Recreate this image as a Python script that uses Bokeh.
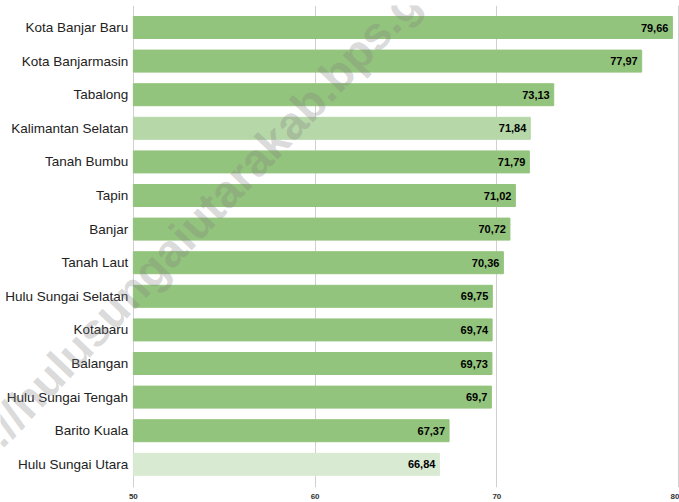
import math
from bokeh.plotting import figure
from bokeh.models import ColumnDataSource, Range1d, FixedTicker, Label
from bokeh.core.properties import value
from bokeh.embed import file_html
from bokeh.resources import INLINE

regions = ["Kota Banjar Baru", "Kota Banjarmasin", "Tabalong", "Kalimantan Selatan",
           "Tanah Bumbu", "Tapin", "Banjar", "Tanah Laut", "Hulu Sungai Selatan",
           "Kotabaru", "Balangan", "Hulu Sungai Tengah", "Barito Kuala", "Hulu Sungai Utara"]
values = [79.66, 77.97, 73.13, 71.84, 71.79, 71.02, 70.72, 70.36, 69.75,
          69.74, 69.73, 69.7, 67.37, 66.84]
x_ticks = [50, 60, 70, 80]

n = len(regions)
ypos = [n - 1 - i for i in range(n)]
colors = []
for r in regions:
    if r == "Kalimantan Selatan":
        colors.append("#b6d7a8")
    elif r == "Hulu Sungai Utara":
        colors.append("#d9ead3")
    else:
        colors.append("#93c47d")
labels = [str(v).replace(".", ",") for v in values]
base = x_ticks[0]

src = ColumnDataSource(dict(y=ypos, v=values, c=colors, lab=labels,
                            left=[base] * n, name=regions))

p = figure(frame_width=679, frame_height=482, output_backend="svg", toolbar_location=None,
           x_range=Range1d(42.69, 80.05), y_range=Range1d(-0.69, n - 1 + 0.655),
           min_border_left=0, min_border_right=0, min_border_top=5, min_border_bottom=0)
p.outline_line_color = None
p.background_fill_color = "white"
p.yaxis.visible = False

p.xgrid.ticker = FixedTicker(ticks=x_ticks)
p.xgrid.grid_line_color = "#d0d0d0"
p.ygrid.grid_line_color = None

p.hbar(y="y", left="left", right="v", height=0.655, color="c", source=src)
p.text(x="v", y="y", text="lab", source=src, text_align="right", text_baseline="middle",
       x_offset=-4, text_font_size="11px", text_font_style="bold", text_color="black",
       text_font=value("Liberation Sans"))
p.text(x="left", y="y", text="name", source=src, text_align="right", text_baseline="middle",
       x_offset=-5, text_font_size="13.5px", text_color="#222222",
       text_font=value("Liberation Sans"))

p.xaxis.ticker = FixedTicker(ticks=x_ticks)
p.xaxis.axis_line_color = None
p.xaxis.major_tick_line_color = None
p.xaxis.minor_tick_line_color = None
p.xaxis.major_label_text_font_size = "8px"
p.xaxis.major_label_text_font_style = "bold"
p.xaxis.major_label_text_color = "#333333"
p.xaxis.major_label_standoff = 0
p.xaxis.major_label_text_font = "Liberation Sans"

wm = Label(x=53.13, y=7.02, text="https://hulusungaiutarakab.bps.go.id",
           angle=math.radians(46.5), text_align="center", text_baseline="middle",
           text_font_size="46px", text_font_style="bold", text_color="#808080",
           text_alpha=0.3, text_font="Liberation Sans")
p.add_layout(wm)

open("out.html", "w").write(file_html(p, INLINE))
